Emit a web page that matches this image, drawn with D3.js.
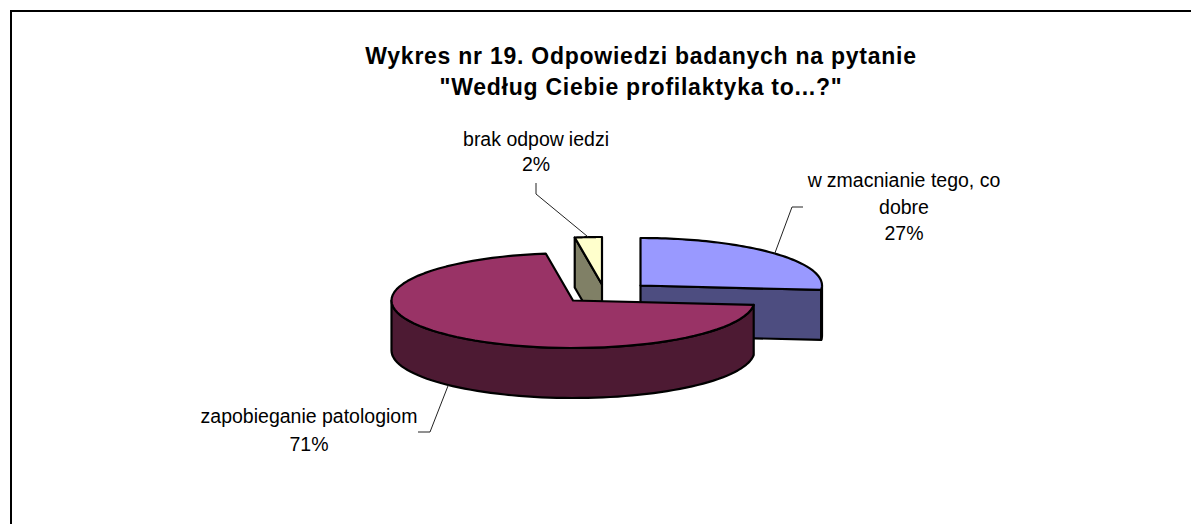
<!DOCTYPE html>
<html><head><meta charset="utf-8">
<script src="https://cdn.jsdelivr.net/npm/d3@7"></script>
<style>
html,body{margin:0;padding:0;background:#fff;overflow:hidden}
svg{display:block}
text{font-family:"Liberation Sans",Arial,sans-serif;fill:#000}
</style></head><body>
<svg id="c" width="1191" height="524"></svg>
<script>
const titleLines = ["Wykres nr 19. Odpowiedzi badanych na pytanie", "\"Według Ciebie profilaktyka to...?\""];
const categories = ["wzmacnianie tego, co dobre", "zapobieganie patologiom", "brak odpowiedzi"];
const values = [26.5, 71.1, 2.4];
const percentLabels = ["27%", "71%", "2%"];
const topColors = ["#9999FF", "#993366", "#FFFFCC"];
const sideColors = ["#4D4D80", "#4D1A33", "#808066"];

const svg = d3.select("#c");
svg.append("path").attr("d", "M11,524V11H1191").attr("fill", "none").attr("stroke", "#000").attr("stroke-width", 2);

const RX = 181.5, RY = 47.5, DEPTH = 50;
const pieGen = d3.pie().sort(null).value(d => d);
const arcs = pieGen(values);
// exploded centres of the slices (screen px)
const centres = [[640.5, 285.5], [573, 300.5], [602, 284.5]];

const sx = d3.scaleLinear().domain([-1, 1]).range([-RX, RX]);
const sy = d3.scaleLinear().domain([-1, 1]).range([-RY, RY]);
const rim = (a, c, dz = 0) => [c[0] + sx(Math.sin(a)), c[1] + sy(-Math.cos(a)) + dz];
const line = d3.line();
const sample = (a0, a1) => d3.range(0, 73).map(i => a0 + (a1 - a0) * i / 72);

function wedgeTop(d, c) {
  return line([c, ...sample(d.startAngle, d.endAngle).map(a => rim(a, c)), c]) + "Z";
}
function outerWall(a0, a1, c) {
  const ang = sample(a0, a1);
  return line([...ang.map(a => rim(a, c)), ...ang.reverse().map(a => rim(a, c, DEPTH))]) + "Z";
}
function cutFace(a, c) {
  const p = rim(a, c);
  return line([c, p, [p[0], p[1] + DEPTH], [c[0], c[1] + DEPTH]]) + "Z";
}
const HALF = Math.PI / 2, TRI = Math.PI * 1.5;
const edge = {stroke: "#000", "stroke-width": 2.2, "stroke-linejoin": "round"};
function draw(d, fill, cls) {
  const p = svg.append("path").attr("d", d).attr("fill", fill).attr("class", cls);
  Object.entries(edge).forEach(([k, v]) => p.attr(k, v));
}
// painter's order: blue, yellow, maroon
[0, 2, 1].forEach(i => {
  const d = arcs[i], c = centres[i];
  if (i === 0) {
    draw(cutFace(d.endAngle, c), sideColors[i], "side");
    draw(outerWall(HALF, d.endAngle, c), sideColors[i], "side");
  }
  if (i === 2) draw(cutFace(d.startAngle, c), sideColors[i], "side");
  if (i === 1) draw(outerWall(d.startAngle, TRI, c), sideColors[i], "side");
  draw(wedgeTop(d, c), topColors[i], "top");
});

// leader lines start on the rim at each slice's mid angle
const elbows = [[[792, 207], [803, 207]], [[430, 432], [418, 432]], [[536, 194], [536, 183]]];
[0, 1, 2].forEach(i => {
  const mid = (arcs[i].startAngle + arcs[i].endAngle) / 2;
  const wall = mid > HALF && mid < TRI ? DEPTH : 0;
  svg.append("path").attr("fill", "none").attr("stroke", "#222").attr("stroke-width", 1)
    .attr("d", line([rim(mid, centres[i], wall), ...elbows[i]]));
});

// title
svg.selectAll(".title").data(titleLines).join("text").attr("class", "title")
  .attr("x", 641).attr("y", (d, i) => 64 + i * 31)
  .attr("text-anchor", "middle").attr("font-weight", "bold").attr("font-size", 23)
  .attr("letter-spacing", 0.75).text(d => d);

// labels
const labelBlocks = [
  {x: 904, y: 187, step: 26.5, lines: [["w", "zmacnianie tego, co"], ["dobre"], [percentLabels[0]]]},
  {x: 309, y: 423, step: 27.5, lines: [[categories[1]], [percentLabels[1]]]},
  {x: 536, y: 146, step: 24.5, lines: [["brak odpow", "iedzi"], [percentLabels[2]]]}
];
labelBlocks.forEach(b => b.lines.forEach((parts, j) => {
  const t = svg.append("text").attr("class", "label").attr("x", b.x).attr("y", b.y + j * b.step)
    .attr("text-anchor", "middle").attr("font-size", 19.5);
  parts.forEach((s, k) => t.append("tspan").attr("dx", k ? 5 : null).text(s));
}));
</script>
</body></html>
